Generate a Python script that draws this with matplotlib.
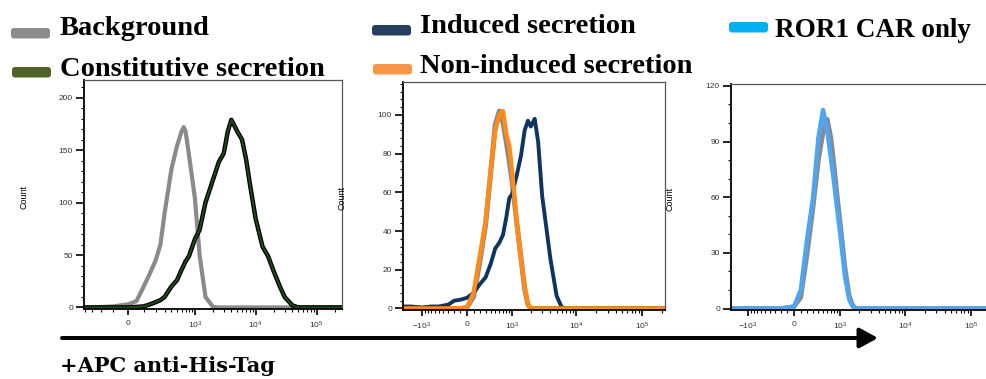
import matplotlib
matplotlib.use('Agg')
import matplotlib.pyplot as plt
from matplotlib.patches import FancyBboxPatch
from matplotlib.ticker import FixedLocator, MultipleLocator

plt.rcParams['font.family'] = 'Liberation Sans'
plt.rcParams['mathtext.fontset'] = 'custom'
plt.rcParams['mathtext.rm'] = 'Liberation Sans'
plt.rcParams['mathtext.it'] = 'Liberation Sans'

# ---- data (fluorescence intensity vs. count) ----
p1_x = [-425, -300, -100, 0, 50, 100, 150, 200, 250, 300, 400, 500, 600, 650, 700,
        800, 1000, 1200, 1500, 2000, 2500, 3000, 3500, 4000, 5000, 6000, 7000, 8000,
        10000, 13000, 16000, 20000, 25000, 30000, 40000, 50000, 70000, 262000]
p1_background = [0, 0, 1, 3, 6, 20, 33, 45, 60, 90, 132, 154, 168, 172, 168,
                 145, 105, 50, 10, 0.5, 0, 0, 0, 0, 0, 0, 0, 0,
                 0, 0, 0, 0, 0, 0, 0, 0, 0, 0]
p1_constitutive = [0, 0, 0, 0, 0.5, 1, 3, 5, 7, 10, 20, 26, 36, 40, 44,
                   49, 65, 74, 100, 122, 139, 147, 168, 179, 168, 160, 141, 119,
                   85, 58, 49, 34, 20, 10, 2, 0, 0, 0]

p2_x = [-2010, -1500, -1000, -700, -500, -300, -200, -100, 0, 100, 200, 300, 400,
        500, 600, 700, 800, 900, 1000, 1200, 1400, 1600, 1800, 2000, 2300, 2600,
        3000, 3500, 4000, 5000, 6000, 8000, 230000]
p2_induced = [1, 1, 0.5, 1, 1, 2, 4, 4.5, 5.5, 8, 12.5, 16, 23,
              31, 34, 38, 47, 57, 59, 69, 79, 92, 97, 94, 98, 86,
              58, 41, 26, 6.5, 0.5, 0, 0]
p2_background = [0, 0, 0, 0, 0, 0, 0, 0, 0.5, 6, 24, 43, 70,
                 95, 102, 96, 86, 76, 66, 44, 26, 10, 2, 0, 0, 0,
                 0, 0, 0, 0, 0, 0, 0]
p2_noninduced = [0, 0, 0, 0, 0, 0, 0, 0, 0.5, 8, 27, 45, 71,
                 92, 100, 102, 90, 84, 71, 44, 25, 11.5, 2, 0, 0, 0,
                 0, 0, 0, 0, 0, 0, 0]

p3_x = [-1860, -500, -200, 0, 100, 200, 300, 400, 500, 600, 700, 800, 900, 1000,
        1200, 1400, 1600, 1800, 2000, 232000]
p3_background = [0, 0, 0, 1, 6, 30, 55, 80, 95, 102, 92, 76, 60, 47,
                 22, 7, 1.5, 0, 0, 0]
p3_ror1 = [0, 0, 0, 1, 10, 38, 60, 92, 107, 96, 81, 67, 53, 41,
           17.5, 5, 1, 0, 0, 0]

legend_labels = ['Background', 'Constitutive secretion', 'Induced secretion',
                 'Non-induced secretion', 'ROR1 CAR only']
legend_colors = ['#8c8c8c', '#4f6228', '#243f60', '#f79646', '#00b0f0']

ticks_pos = [0, 1e3, 1e4, 1e5]
ticks_pos_neg = [-1e3, 0, 1e3, 1e4, 1e5]
tick_labels = ['0', '$10^3$', '$10^4$', '$10^5$']
tick_labels_neg = ['$-10^3$', '0', '$10^3$', '$10^4$', '$10^5$']
minor_x = ([-v for v in range(100, 1000, 100)] + list(range(100, 1000, 100))
           + list(range(2000, 10000, 1000)) + list(range(20000, 100000, 10000)) + [200000])

W, H = 986, 379
fig = plt.figure(figsize=(W / 100, H / 100), dpi=100)


def px_axes(left, top, right, bottom):
    return fig.add_axes([left / W, 1 - bottom / H, (right - left) / W, (bottom - top) / H])


def style(ax, lin_w, xlim, ylim, xt, xtl, yt, ystep):
    ax.set_xscale('asinh', linear_width=lin_w)
    ax.set_xlim(*xlim)
    ax.set_ylim(*ylim)
    ax.xaxis.set_major_locator(FixedLocator(xt))
    ax.set_xticklabels(xtl)
    ax.xaxis.set_minor_locator(FixedLocator(minor_x))
    ax.set_yticks(yt)
    ax.yaxis.set_minor_locator(MultipleLocator(ystep))
    ax.tick_params(axis='both', which='major', labelsize=6, labelcolor='#333333',
                   direction='out', width=1.2)
    ax.tick_params(axis='x', which='major', length=4, pad=4)
    ax.tick_params(axis='y', which='major', length=5.5, pad=2.5)
    ax.tick_params(axis='both', which='minor', length=2.3, width=0.8, direction='out')
    for s in ['left', 'bottom']:
        ax.spines[s].set_linewidth(1.3)
        ax.spines[s].set_color('black')
    for s in ['top', 'right']:
        ax.spines[s].set_linewidth(0.9)
        ax.spines[s].set_color('#555555')
    ax.set_ylabel('Count', fontsize=6.5)
    ax.yaxis.set_label_coords(-0.215, 0.49)


# panel 1
ax1 = px_axes(84, 80, 342, 309)
ax1.plot(p1_x, p1_background, color='#8a8a8a', lw=3.0, solid_joinstyle='round')
ax1.plot(p1_x, p1_constitutive, color='black', lw=3.2, solid_joinstyle='round')
ax1.plot(p1_x, p1_constitutive, color='#1f4a1a', lw=1.4, solid_joinstyle='round')
style(ax1, 164, (-425, 262000), (-1.5, 217), ticks_pos, tick_labels,
      [0, 50, 100, 150, 200], 10)

# panel 2
ax2 = px_axes(403, 82, 665, 310)
ax2.plot(p2_x, p2_background, color='#8a8a8a', lw=3.6, solid_joinstyle='round')
ax2.plot(p2_x, p2_induced, color='#0f3460', lw=2.8, solid_joinstyle='round')
ax2.plot(p2_x, p2_noninduced, color='#ff8c1a', lw=3.2, solid_joinstyle='round')
style(ax2, 429, (-2010, 226000), (-0.8, 117), ticks_pos_neg, tick_labels_neg,
      [0, 20, 40, 60, 80, 100], 4)

# panel 3 (right edge runs past the figure)
ax3 = px_axes(731, 84, 995, 310)
ax3.plot(p3_x, p3_background, color='#8a8a8a', lw=3.4, solid_joinstyle='round')
ax3.plot(p3_x, p3_ror1, color='#4ea6f2', lw=3.2, solid_joinstyle='round')
style(ax3, 418, (-1860, 232000), (-0.8, 121), ticks_pos_neg, tick_labels_neg,
      [0, 30, 60, 90, 120], 10)

# overlay in pixel units for legend, arrow and caption
lay = fig.add_axes([0, 0, 1, 1])
lay.set_xlim(0, W)
lay.set_ylim(H, 0)
lay.axis('off')

legend_spots = [(11, 28, 60, 35), (12, 67, 60, 76), (372, 25, 420, 33),
                (373, 64, 420, 73), (729, 22, 775, 37)]
legend_sizes = [20.5, 20.5, 20.5, 20.5, 19.5]
for (bx, by, tx, ty), lab, col, fs in zip(legend_spots, legend_labels, legend_colors, legend_sizes):
    lay.add_patch(FancyBboxPatch((bx, by), 39, 10.5, boxstyle='round,pad=0,rounding_size=3',
                                 facecolor=col, edgecolor='none'))
    lay.text(tx, ty, lab, fontsize=fs, fontweight='bold', family='Liberation Serif',
             va='baseline', ha='left')

lay.annotate('', xy=(878, 338), xytext=(62, 338),
             arrowprops=dict(arrowstyle='-|>,head_length=1.1,head_width=0.6',
                             lw=2.9, color='black', mutation_scale=10,
                             shrinkA=0, shrinkB=0))
lay.text(60, 372, '+APC anti-His-Tag', fontsize=15, fontweight='bold',
         family='DejaVu Serif', va='baseline', ha='left')

fig.savefig('out.png', dpi=100)
